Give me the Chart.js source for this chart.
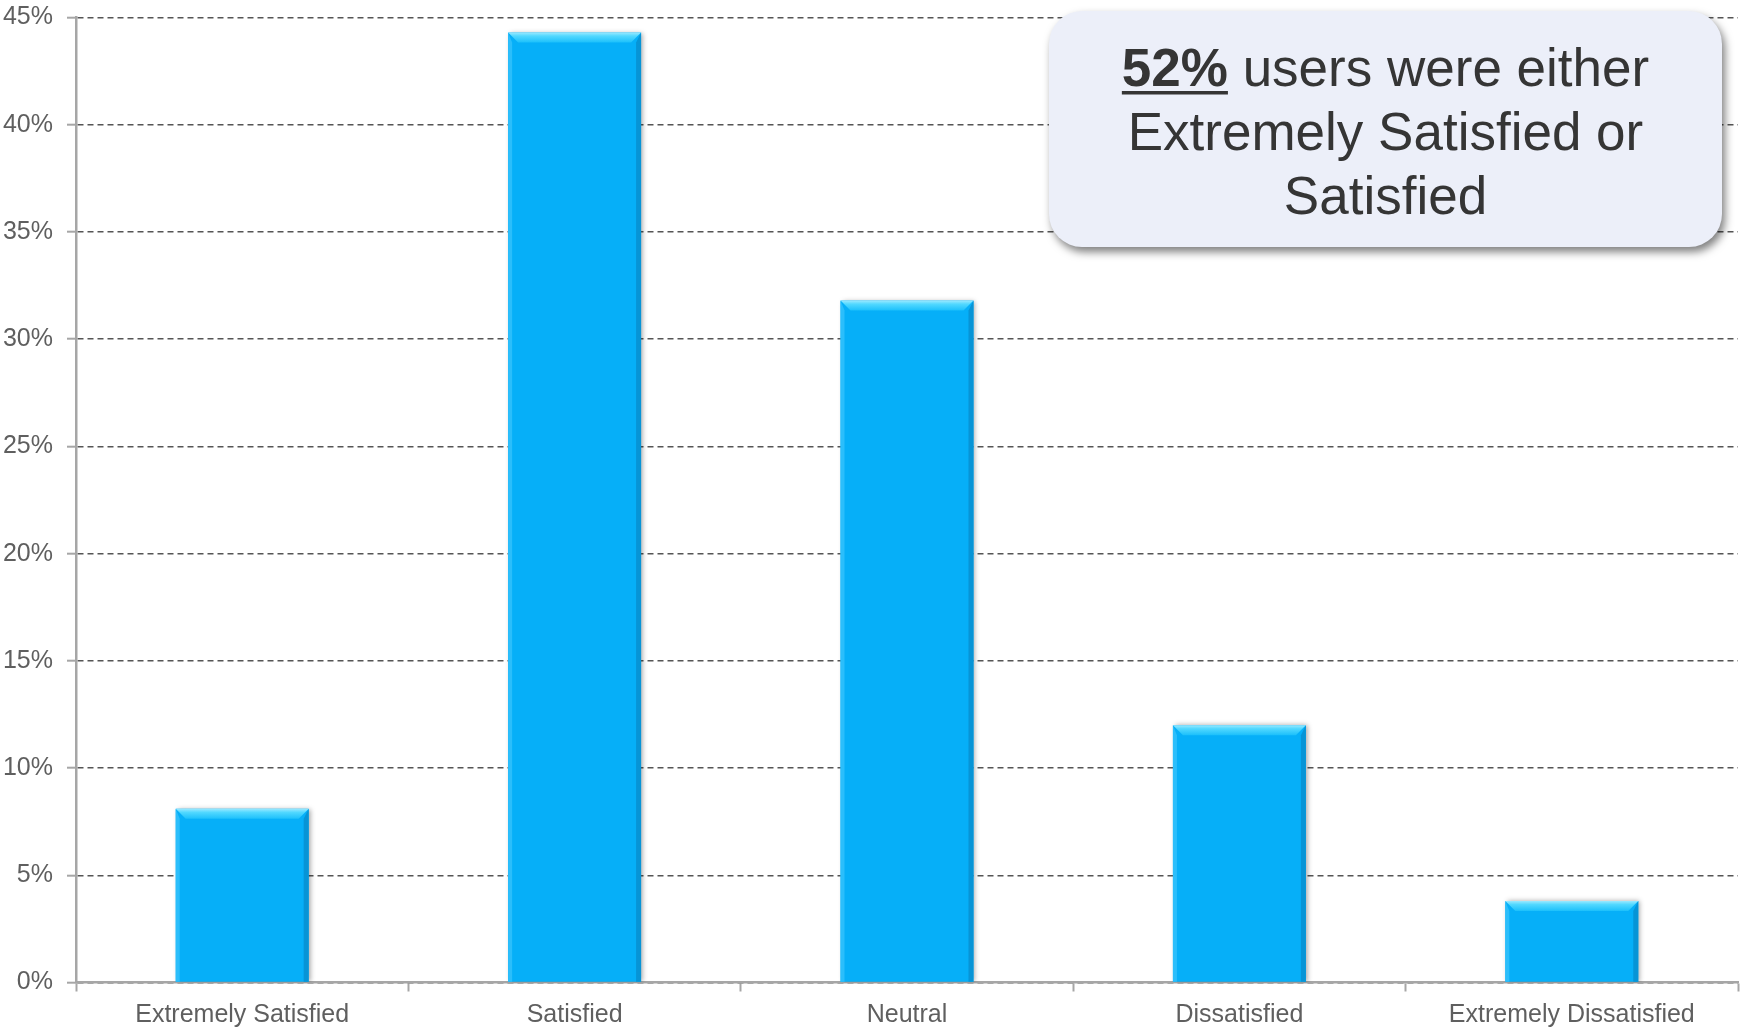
<!DOCTYPE html>
<html>
<head>
<meta charset="utf-8">
<title>User Satisfaction</title>
<script src="https://cdn.jsdelivr.net/npm/chart.js@4/dist/chart.umd.min.js"></script>
<style>
  html, body { margin: 0; padding: 0; background: #ffffff; }
  #wrap { width: 1744px; height: 1029px; }
</style>
</head>
<body>
<div id="wrap"><canvas id="chart" width="1744" height="1029"></canvas></div>
<script>
// Survey categories and the share of users in each (percent)
const categories = ['Extremely Satisfied', 'Satisfied', 'Neutral', 'Dissatisfied', 'Extremely Dissatisfied'];
const shares = [8.1, 44.3, 31.8, 12.0, 3.8];
const yTicks = [0, 5, 10, 15, 20, 25, 30, 35, 40, 45];

// Callout text
const calloutStrong = '52%';
const calloutLines = [' users were either', 'Extremely Satisfied or', 'Satisfied'];

// Bevelled look for each bar: light top edge, lighter left edge, darker right edge
const bevelPlugin = {
  id: 'bevel',
  beforeDatasetDraw(chart) {
    const ctx = chart.ctx;
    ctx.save();
    ctx.shadowColor = 'rgba(0,0,0,0.35)';
    ctx.shadowBlur = 5;
    ctx.shadowOffsetX = 2;
    ctx.shadowOffsetY = 0;
  },
  afterDatasetDraw(chart) {
    const ctx = chart.ctx;
    ctx.restore();
    const meta = chart.getDatasetMeta(0);
    meta.data.forEach(el => {
      const p = el.getProps(['x', 'y', 'base', 'width'], true);
      const l = p.x - p.width / 2, r = p.x + p.width / 2, t = p.y, b = p.base;
      const bv = 10;
      ctx.save();
      // right edge
      ctx.fillStyle = '#0794d6';
      ctx.beginPath();
      ctx.moveTo(r, t); ctx.lineTo(r, b); ctx.lineTo(r - 5, b); ctx.lineTo(r - 5, t + bv);
      ctx.closePath(); ctx.fill();
      // left edge
      ctx.fillStyle = '#2bbefb';
      ctx.beginPath();
      ctx.moveTo(l, t); ctx.lineTo(l + 4, t + bv); ctx.lineTo(l + 4, b); ctx.lineTo(l, b);
      ctx.closePath(); ctx.fill();
      // top edge
      const g = ctx.createLinearGradient(0, t, 0, t + bv);
      g.addColorStop(0, '#9be9ff');
      g.addColorStop(0.35, '#52d8ff');
      g.addColorStop(1, '#1cc0fb');
      ctx.fillStyle = g;
      ctx.beginPath();
      ctx.moveTo(l, t); ctx.lineTo(r, t); ctx.lineTo(r - 10, t + bv); ctx.lineTo(l + 10, t + bv);
      ctx.closePath(); ctx.fill();
      ctx.restore();
    });
  }
};

// Rounded callout box with drop shadow
const calloutPlugin = {
  id: 'callout',
  afterDraw(chart) {
    const ctx = chart.ctx;
    const area = chart.chartArea;
    const x0 = area.right - 689, y0 = area.top - 6.5, w = 673, h = 236, rad = 33;
    ctx.save();
    ctx.shadowColor = 'rgba(0,0,0,0.5)';
    ctx.shadowBlur = 8;
    ctx.shadowOffsetX = 3;
    ctx.shadowOffsetY = 5;
    ctx.fillStyle = '#eceff9';
    ctx.beginPath();
    ctx.roundRect(x0, y0, w, h, rad);
    ctx.fill();
    ctx.restore();

    const cx = x0 + w / 2;
    const size = 53;
    const lineGap = 64;
    const base1 = y0 + 75;
    const regular = size + 'px "Liberation Sans", Arial, sans-serif';
    const bold = 'bold ' + size + 'px "Liberation Sans", Arial, sans-serif';
    ctx.save();
    ctx.fillStyle = '#353535';
    ctx.textBaseline = 'alphabetic';
    // first line: bold underlined figure followed by regular text
    ctx.font = bold;
    const wStrong = ctx.measureText(calloutStrong).width;
    ctx.font = regular;
    const wRest = ctx.measureText(calloutLines[0]).width;
    const start = cx - (wStrong + wRest) / 2;
    ctx.font = bold;
    ctx.textAlign = 'left';
    ctx.fillText(calloutStrong, start, base1);
    ctx.fillRect(start, base1 + 5, wStrong, 3.5);
    ctx.font = regular;
    ctx.fillText(calloutLines[0], start + wStrong, base1);
    ctx.textAlign = 'center';
    ctx.fillText(calloutLines[1], cx, base1 + lineGap);
    ctx.fillText(calloutLines[2], cx, base1 + 2 * lineGap);
    ctx.restore();
  }
};

const axisGray = '#a6a6a6';
const labelGray = '#5f5f5f';

new Chart(document.getElementById('chart'), {
  type: 'bar',
  data: {
    labels: categories,
    datasets: [{
      data: shares,
      backgroundColor: '#06aff8',
      borderWidth: 0,
      barPercentage: 0.4,
      categoryPercentage: 1.0
    }]
  },
  options: {
    responsive: false,
    devicePixelRatio: 1,
    animation: false,
    layout: { padding: { top: 17.5, right: 6, left: 0, bottom: 0 } },
    plugins: {
      legend: { display: false },
      tooltip: { enabled: false }
    },
    scales: {
      x: {
        grid: {
          display: true,
          drawOnChartArea: false,
          offset: true,
          tickLength: 9,
          tickColor: axisGray,
          tickWidth: 2
        },
        border: { display: true, color: axisGray, width: 2.5 },
        ticks: {
          color: labelGray,
          font: { family: '"Liberation Sans", Arial, sans-serif', size: 25 },
          padding: 9,
          maxRotation: 0,
          autoSkip: false
        },
        afterFit(scale) {
          scale.height = 46.5;
          scale.paddingLeft = 0;
          scale.paddingRight = 0;
        }
      },
      y: {
        min: 0,
        max: 45,
        afterBuildTicks(scale) { scale.ticks = yTicks.map(v => ({ value: v })); },
        grid: {
          color: '#555555',
          lineWidth: 1.4,
          tickLength: 9,
          tickColor: axisGray,
          tickWidth: 2
        },
        border: { display: true, color: axisGray, width: 2.5, dash: [6, 4] },
        ticks: {
          color: labelGray,
          font: { family: '"Liberation Sans", Arial, sans-serif', size: 25 },
          padding: 14,
          callback: v => v + '%'
        },
        afterFit(scale) {
          scale.width = 76;
          scale.paddingTop = 0;
          scale.paddingBottom = 0;
        }
      }
    }
  },
  plugins: [bevelPlugin, calloutPlugin]
});
</script>
</body>
</html>
